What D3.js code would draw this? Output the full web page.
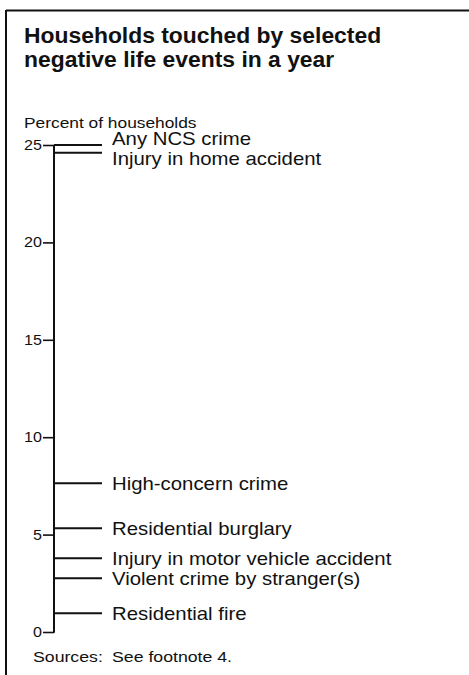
<!DOCTYPE html>
<html>
<head>
<meta charset="utf-8">
<script src="https://cdn.jsdelivr.net/npm/d3@7"></script>
<style>
  html, body { margin: 0; padding: 0; background: #fff; }
  svg { display: block; }
  text { font-family: "Liberation Sans", Arial, Helvetica, sans-serif; fill: #111; }
</style>
</head>
<body>
<svg id="chart" width="469" height="675"></svg>
<script>
// ---- data ----
const titleLines = ["Households touched by selected", "negative life events in a year"];
const axisTitle = "Percent of households";
const events = [
  "Any NCS crime",
  "Injury in home accident",
  "High-concern crime",
  "Residential burglary",
  "Injury in motor vehicle accident",
  "Violent crime by stranger(s)",
  "Residential fire"
];
const percents = [25, 24.6, 7.63, 5.32, 3.78, 2.76, 0.96];
const tickValues = [0, 5, 10, 15, 20, 25];
const sourceLabel = "Sources:";
const sourceText = "See footnote 4.";

// ---- layout ----
const svg = d3.select("#chart");
const SX = 1.15; // horizontal stretch of scanned type
const axisX = 54, lineEnd = 102, labelX = 112;

const y = d3.scaleLinear().domain([0, 25]).range([632, 145]);

// frame (top and left rules)
svg.append("line").attr("x1", 6).attr("x2", 469).attr("y1", 10.5).attr("y2", 10.5)
  .attr("stroke", "#111").attr("stroke-width", 2);
svg.append("line").attr("x1", 6).attr("x2", 6).attr("y1", 10).attr("y2", 675)
  .attr("stroke", "#111").attr("stroke-width", 2);

function stretchedText(g, x, yy, str, size, weight, sx, anchor) {
  return g.append("text")
    .attr("transform", `translate(${x},${yy}) scale(${sx},1)`)
    .attr("font-size", size)
    .attr("font-weight", weight || "normal")
    .attr("text-anchor", anchor || "start")
    .text(str);
}

// title
titleLines.forEach((t, i) => stretchedText(svg, 24, 43.3 + i * 23.4, t, 22, "bold", 1.04));

// axis title
stretchedText(svg, 24, 128.3, axisTitle, 15.4, "normal", SX * 0.98);

// axis
const axisG = svg.append("g").attr("transform", `translate(${axisX},0)`);
const axis = d3.axisLeft(y).tickValues(tickValues).tickSize(11).tickPadding(0).tickFormat(d3.format("d"));
axisG.call(axis);
axisG.select(".domain").remove();
axisG.selectAll(".tick line").attr("stroke", "#111").attr("stroke-width", 1.6);
axisG.selectAll(".tick text").remove();
axisG.append("line").attr("x1", 0).attr("x2", 0).attr("y1", y(0) + 0.8).attr("y2", y(25))
  .attr("stroke", "#111").attr("stroke-width", 2);
tickValues.forEach(v => stretchedText(svg, 42, y(v) + 5, String(v), 14, "normal", SX, "end"));

// event lines
svg.append("g").selectAll("line").data(percents).join("line")
  .attr("x1", axisX).attr("x2", lineEnd)
  .attr("y1", d => y(d)).attr("y2", d => y(d))
  .attr("stroke", "#111").attr("stroke-width", 2);

// label positions with simple collision avoidance
const minGap = 20;
let ly = percents.map(d => y(d) + 6.5);
for (let iter = 0; iter < 30; iter++) {
  for (let i = 1; i < ly.length; i++) {
    const gap = ly[i] - ly[i - 1];
    if (gap < minGap) {
      const push = (minGap - gap) / 2;
      ly[i - 1] -= push; ly[i] += push;
    }
  }
}
events.forEach((e, i) => stretchedText(svg, labelX, ly[i], e, 17.7, "normal", SX));

// source
stretchedText(svg, 33, 661.7, sourceLabel, 15.4, "normal", SX);
stretchedText(svg, labelX, 661.7, sourceText, 15.4, "normal", SX);
</script>
</body>
</html>
